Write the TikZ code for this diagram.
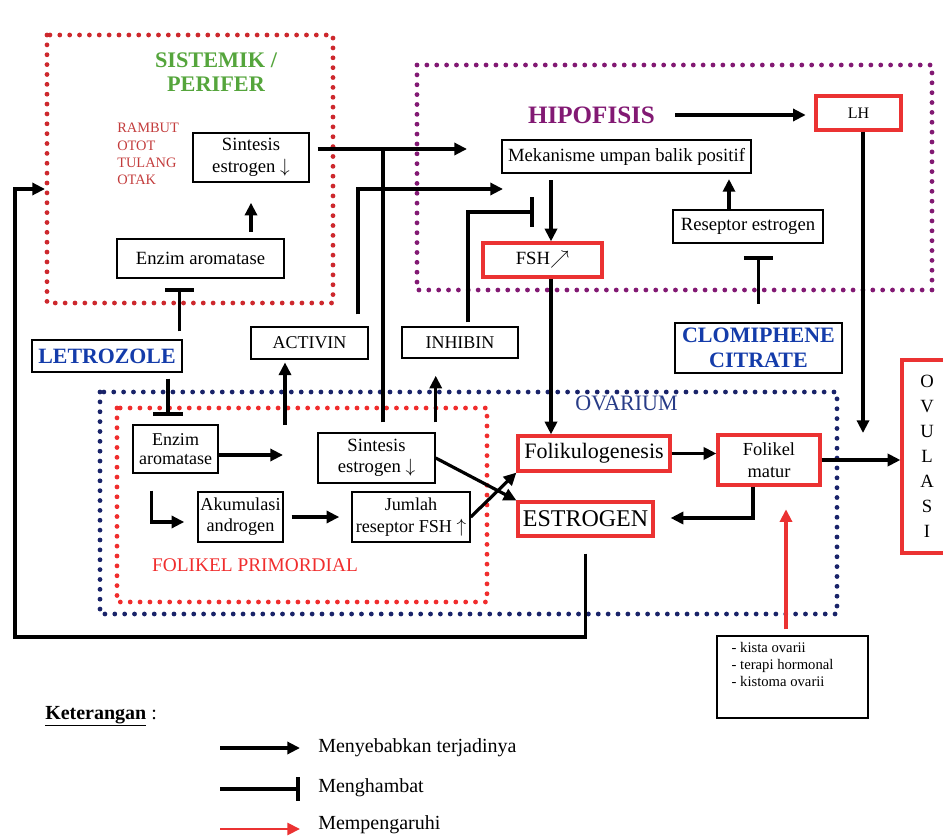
\documentclass[tikz,border=0pt]{standalone}
\usepackage{fontspec}
\setmainfont{Liberation Serif}
\usetikzlibrary{arrows.meta,calc}

\definecolor{sisred}{RGB}{205,40,45}
\definecolor{folred}{RGB}{240,45,45}
\definecolor{boxred}{RGB}{235,50,50}
\definecolor{organred}{RGB}{195,60,60}
\definecolor{hipurple}{RGB}{130,25,115}
\definecolor{ovanavy}{RGB}{25,35,105}
\definecolor{ovablue}{RGB}{40,60,135}
\definecolor{drugblue}{RGB}{20,60,170}
\definecolor{sisgreen}{RGB}{85,165,60}

\tikzset{
  box/.style={draw, line width=1.1pt, fill=white, inner sep=1pt, align=center, font=\fontsize{14}{16}\selectfont},
  redbox/.style={box, draw=boxred, line width=2.4pt},
  conn/.style={line width=2.4pt},
  arr/.style={conn, -{Triangle[length=9.5pt,width=9pt]}},
  inhib/.style={conn, -{Bar[width=22pt,line width=3pt]}},
  redarr/.style={line width=2.8pt, draw=boxred, -{Triangle[length=9.5pt,width=9pt]}},
  dotline/.style={line width=3.6pt, line cap=round, dash pattern=on 0pt off 7.4pt},
  lbl/.style={inner sep=0pt, align=center}
}

\begin{document}
\begin{tikzpicture}[x=0.75pt,y=0.75pt,yscale=-1,xscale=1]
\useasboundingbox (0,0) rectangle (943,838);
\clip (0,0) rectangle (943,838);

\draw[dotline, color=sisred] (47,35) rectangle (333,303);
\draw[dotline, color=hipurple] (417,65) rectangle (932,290);
\draw[dotline, color=ovanavy] (100,392) rectangle (837,614);
\draw[dotline, color=folred] (117,408) rectangle (487,602);

\node[lbl, text=sisgreen, font=\bfseries\fontsize{16.7}{18}\selectfont] (sistemik) at (216,72) {SISTEMIK /\\PERIFER};
\node[lbl, text=organred, align=left, anchor=west, font=\fontsize{10.8}{13}\selectfont] (organ) at (117,154) {RAMBUT\\OTOT\\TULANG\\OTAK};
\node[box, minimum width=87pt, minimum height=36.75pt] (sintTop) at (251,157.5) {Sintesis\\estrogen $\downarrow$};
\node[box, minimum width=125.25pt, minimum height=29.25pt] (enzTop) at (200.5,258.5) {Enzim aromatase};
\node[box, minimum width=112.5pt, minimum height=24pt, text=drugblue, font=\bfseries\fontsize{16.4}{18}\selectfont] (letro) at (107,356) {LETROZOLE};

\node[lbl, text=hipurple, font=\bfseries\fontsize{18.8}{20}\selectfont] (hipo) at (591.5,115) {HIPOFISIS};
\node[box, minimum width=186.75pt, minimum height=24.75pt] (meka) at (626.5,156.5) {Mekanisme umpan balik positif};
\node[redbox, minimum width=89.25pt, minimum height=25.5pt] (fsh) at (542.5,260) {FSH$\nearrow$};
\node[redbox, minimum width=63.75pt, minimum height=25.5pt, font=\fontsize{12}{14}\selectfont] (lh) at (858.5,113) {LH};
\node[box, minimum width=112.5pt, minimum height=24.75pt] (resep) at (748,226.5) {Reseptor estrogen};
\node[box, minimum width=125.25pt, minimum height=37.5pt, text=drugblue, font=\bfseries\fontsize{16.5}{18.75}\selectfont] (clomi) at (758.5,348) {CLOMIPHENE\\CITRATE};

\node[box, minimum width=87.75pt, minimum height=24pt, font=\fontsize{13.5}{16}\selectfont] (activin) at (309.5,343) {ACTIVIN};
\node[box, minimum width=87pt, minimum height=23.25pt, font=\fontsize{13.5}{16}\selectfont] (inhibin) at (460,342.5) {INHIBIN};

\node[lbl, text=ovablue, font=\fontsize{16.5}{18}\selectfont] (ovarium) at (626.5,403) {OVARIUM};
\node[lbl, text=folred, font=\fontsize{14.5}{16}\selectfont] (primordial) at (255,565) {FOLIKEL PRIMORDIAL};

\node[box, minimum width=63.75pt, minimum height=36pt, font=\fontsize{13.5}{14.5}\selectfont] (enzIn) at (175.5,449) {Enzim\\aromatase};
\node[box, minimum width=63.75pt, minimum height=37.5pt, font=\fontsize{13.7}{15.75}\selectfont] (akum) at (240.5,517) {Akumulasi\\androgen};
\node[box, minimum width=88.5pt, minimum height=37.5pt, font=\fontsize{13.6}{16}\selectfont] (jumlah) at (411,517) {Jumlah\\reseptor FSH $\uparrow$};
\node[box, minimum width=87.75pt, minimum height=37.5pt] (sintIn) at (376.5,458) {Sintesis\\estrogen $\downarrow$};

\node[redbox, minimum width=114pt, minimum height=26.25pt, font=\fontsize{16.5}{18}\selectfont] (foliku) at (594,453.5) {Folikulogenesis};
\node[redbox, minimum width=101.25pt, minimum height=25.5pt, font=\fontsize{18}{20}\selectfont] (estro) at (585.5,519) {ESTROGEN};
\node[redbox, minimum width=76.5pt, minimum height=37.5pt, font=\fontsize{13.8}{16.5}\selectfont] (matur) at (769,460) {Folikel\\matur};
\node[redbox, minimum width=37.5pt, minimum height=144.75pt, font=\fontsize{14}{18.75}\selectfont] (ovul) at (927,456.5) {O\\V\\U\\L\\A\\S\\I};

\node[draw, line width=1.1pt, fill=white, inner sep=0pt, font=\fontsize{11}{12.75}\selectfont] (kista) at (792.5,677) {\begin{minipage}[c][61.5pt][t]{113.25pt}\raggedright\leftskip=11pt
\vspace*{5pt}- kista ovarii\\- terapi hormonal\\- kistoma ovarii\end{minipage}};

\draw[arr, shorten <=5pt, shorten >=15pt] (sintTop.south |- enzTop.north) -- (sintTop.south);
\coordinate (lt) at ($(letro.north east)+(-3,0)$);
\draw[inhib, shorten <=6pt, shorten >=6.75pt] (lt) -- (lt |- enzTop.south);
\coordinate (lb) at ($(enzIn.north)+(-7.5,0)$);
\draw[inhib, shorten <=4.5pt, shorten >=6pt] (letro.south -| lb) -- (lb);

\coordinate (enzEnd) at (283,455);
\draw[arr] (enzIn.east |- enzEnd) -- (enzEnd);
\coordinate (elbA) at ($(enzIn.south west)+(19,17)$);
\draw[arr] (elbA) |- ($(akum.west)+(-13,5)$);
\draw[arr, shorten <=6pt, shorten >=9pt] (akum.east) -- (jumlah.west);
\coordinate (actUp) at (285,425);
\draw[arr, shorten >=2pt] (actUp) -- (actUp |- activin.south);
\draw[arr, shorten <=7.5pt, shorten >=12.75pt] (sintIn.north east) -- (sintIn.north east |- inhibin.south);

\coordinate (tj) at (383,149);
\coordinate (tjEnd) at (467,149);
\draw[conn, shorten <=7.5pt] (sintIn.north -| tj) -- (tj);
\draw[arr, shorten <=6pt] (sintTop.east |- tj) -- (tjEnd);
\coordinate (acvTurn) at (358,189);
\coordinate (acvEnd) at (503,189);
\draw[arr, shorten <=9pt] (activin.north -| acvTurn) -- (acvTurn) -- (acvEnd);
\coordinate (inhTurn) at (468,212);
\coordinate (inhEnd) at (534,212);
\draw[inhib, shorten <=3pt] (inhibin.north -| inhTurn) -- (inhTurn) -- (inhEnd);

\coordinate (fx) at ($(fsh.north)+(8.5,0)$);
\draw[arr, shorten <=5pt] (meka.south -| fx) -- (fx);
\draw[arr] (fsh.south -| fx) -- (fx |- foliku.north);
\draw[arr, shorten <=15pt, shorten >=6.5pt] (hipo.east) -- (hipo.east -| lh.west);
\coordinate (lhEnd) at (863,433);
\draw[arr] (lh.south -| lhEnd) -- (lhEnd);
\coordinate (rx) at ($(resep.north)+(-19,0)$);
\draw[arr, shorten >=4pt] (rx) -- (rx |- meka.south);
\draw[inhib, shorten <=14pt, shorten >=9pt] (clomi.north) -- (clomi.north |- resep.south);

\draw[arr] (foliku.east) -- (foliku.east -| matur.west);
\draw[arr] (matur.east) -- (matur.east -| ovul.west);
\coordinate (mtTurn) at (753,518);
\draw[arr, shorten >=12pt] (matur.south -| mtTurn) -- (mtTurn) -- (mtTurn -| estro.east);
\draw[arr] (sintIn.east) -- (estro.north west);
\draw[arr] (jumlah.east) -- (foliku.south west);

\coordinate (fbLeft) at (15,637);
\coordinate (fbEnd) at (45,189);
\draw[arr, shorten <=12pt] (estro.south) -- (estro.south |- fbLeft) -- (fbLeft) |- (fbEnd);
\coordinate (redX) at ($(kista.north)+(-6.5,0)$);
\draw[redarr, shorten <=4.5pt, shorten >=17pt] (redX) -- (redX |- matur.south);

\node[lbl, anchor=west, font=\fontsize{15}{17}\selectfont] (ket) at (45,716) {\textbf{\underline{Keterangan}} :};
\node[lbl, anchor=west, font=\fontsize{15}{17}\selectfont] (lgCause) at (318,748) {Menyebabkan terjadinya};
\node[lbl, anchor=west, font=\fontsize{15}{17}\selectfont] (lgBlock) at (318,788) {Menghambat};
\node[lbl, anchor=west, font=\fontsize{15}{17}\selectfont] (lgAffect) at (318,825) {Mempengaruhi};
\coordinate (lgA) at (220,748);
\coordinate (lgB) at (220,789);
\coordinate (lgC) at (220,829);
\draw[arr, shorten >=13.5pt] (lgA) -- (lgA -| lgCause.west);
\draw[conn, -{Bar[width=18pt,line width=3pt]}, shorten >=13.5pt] (lgB) -- (lgB -| lgBlock.west);
\draw[redarr, line width=2.2pt, shorten >=13.5pt] (lgC) -- (lgC -| lgAffect.west);
\end{tikzpicture}
\end{document}
